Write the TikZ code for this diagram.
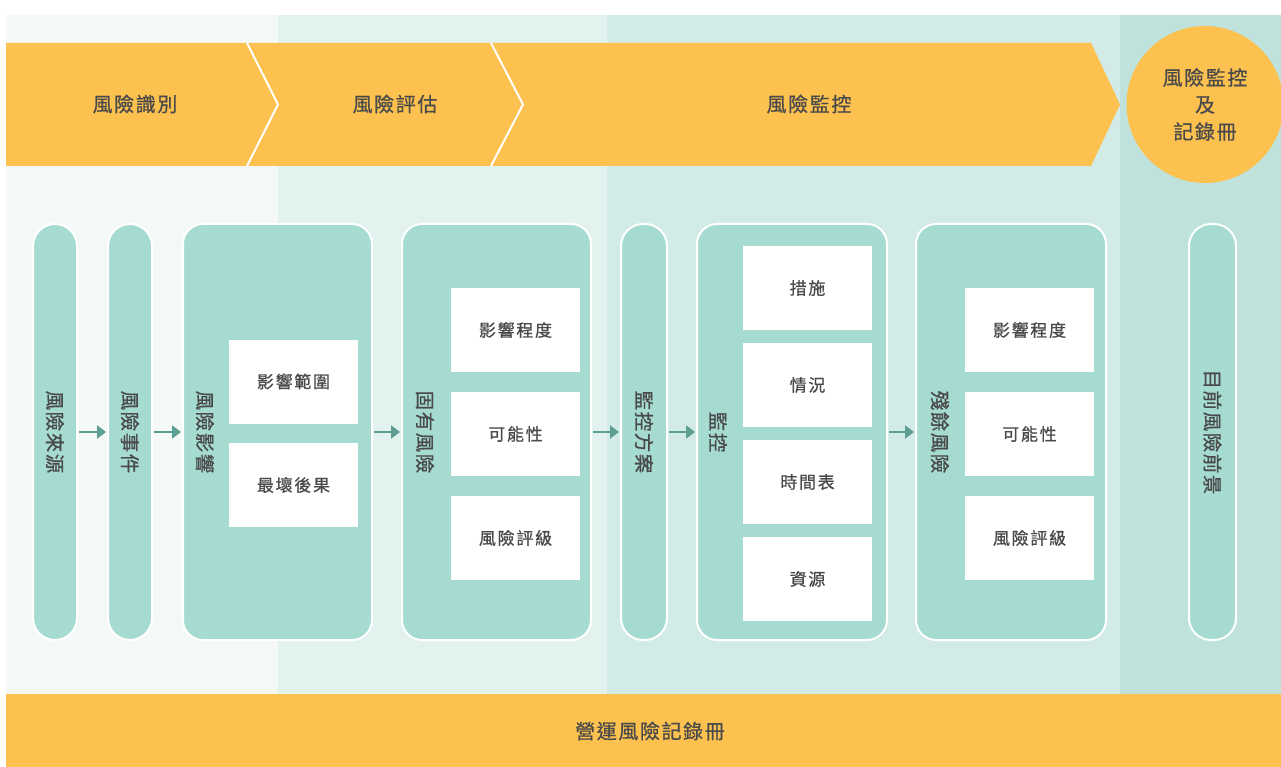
\documentclass[tikz,border=0pt]{standalone}
\usepackage{fontspec}
\usetikzlibrary{arrows.meta}
\newfontfamily\cjk[LetterSpace=8,FakeBold=0.8]{Noto Sans CJK TC}
\newfontfamily\cjkb[LetterSpace=10,FakeBold=0.8]{Noto Sans CJK TC}
\definecolor{bgA}{HTML}{F4F9F8}
\definecolor{bgB}{HTML}{E2F2EF}
\definecolor{bgC}{HTML}{D2EBE6}
\definecolor{bgD}{HTML}{BFE3DC}
\definecolor{orng}{HTML}{FDC14F}
\definecolor{teal}{HTML}{A5DBD1}
\definecolor{arrc}{HTML}{5C9E91}
\definecolor{txt}{HTML}{4A4A4A}
\tikzset{
  lab/.style={font=\cjk\fontsize{20}{27}\selectfont, text=txt, align=center},
  vlab/.style={font=\cjk\fontsize{19.5}{22}\selectfont, text=txt, rotate=-90, inner sep=0pt},
  pill/.style={fill=teal, draw=white, line width=2pt, rounded corners=22pt, minimum height=416pt, inner sep=0pt},
  bigbox/.style={fill=teal, draw=white, line width=2pt, rounded corners=20pt, minimum width=189pt, minimum height=416pt, inner sep=0pt},
  wbox/.style={fill=white, minimum width=129pt, minimum height=84pt, inner sep=0pt, font=\cjkb\fontsize{17}{20}\selectfont, text=txt},
  arr/.style={arrc, line width=2.5pt, -{Triangle[length=9pt,width=13pt]}, shorten <=1pt, shorten >=1pt}
}
\begin{document}
\begin{tikzpicture}[x=1pt,y=-1pt]
\useasboundingbox (0,0) rectangle (1281,767);
\fill[white] (0,0) rectangle (1281,767);
\fill[bgA] (6,15) rectangle (278,694);
\fill[bgB] (278,15) rectangle (607,694);
\fill[bgC] (607,15) rectangle (1120,694);
\fill[bgD] (1120,15) rectangle (1281,694);
% chevron band
\fill[orng] (6,43) -- (1091,43) -- (1120,104.5) -- (1091,166) -- (6,166) -- cycle;
\draw[white, line width=2pt] (247,43) -- (278,104.5) -- (247,166);
\draw[white, line width=2pt] (491,43) -- (523,104.5) -- (491,166);
\node[lab] (h1) at (135,104) {風險識別};
\node[lab] (h2) at (395,104) {風險評估};
\node[lab] (h3) at (809,104) {風險監控};
\node[circle, fill=orng, minimum size=157pt, inner sep=0pt, lab] (h4) at (1205,104.5) {風險監控\\及\\記錄冊};
% bottom band
\fill[orng] (6,694) rectangle (1281,767);
\node[lab] (bot) at (650,731) {營運風險記錄冊};
% columns
\node[pill, minimum width=44pt] (p1) at (55,432) {};
\node[pill, minimum width=44pt] (p2) at (130,432) {};
\node[bigbox] (b3) at (277.5,432) {};
\node[bigbox] (b4) at (496.5,432) {};
\node[pill, minimum width=46pt] (p5) at (644,432) {};
\node[bigbox, minimum width=190pt] (b6) at (792,432) {};
\node[bigbox, minimum width=190pt] (b7) at (1011,432) {};
\node[pill, minimum width=47pt] (p8) at (1212.5,432) {};
% vertical labels
\node[vlab] (v1) at (p1) {風險來源};
\node[vlab] (v2) at (p2) {風險事件};
\node[vlab] (v3) at (205,432) {風險影響};
\node[vlab] (v4) at (425,432) {固有風險};
\node[vlab] (v5) at (p5) {監控方案};
\node[vlab] (v6) at (718,432) {監控};
\node[vlab] (v7) at (940,432) {殘餘風險};
\node[vlab] (v8) at (p8) {目前風險前景};
% inner boxes
\node[wbox] (w31) at (293.5,381.5) {影響範圍};
\node[wbox] (w32) at (293.5,485) {最壞後果};
\node[wbox] (w41) at (515.5,330) {影響程度};
\node[wbox] (w42) at (515.5,434) {可能性};
\node[wbox] (w43) at (515.5,538) {風險評級};
\node[wbox] (w61) at (807.5,288) {措施};
\node[wbox] (w62) at (807.5,385) {情況};
\node[wbox] (w63) at (807.5,482) {時間表};
\node[wbox] (w64) at (807.5,579) {資源};
\node[wbox] (w71) at (1029.5,330) {影響程度};
\node[wbox] (w72) at (1029.5,434) {可能性};
\node[wbox] (w73) at (1029.5,538) {風險評級};
% arrows
\draw[arr] (p1) -- (p2);
\draw[arr] (p2) -- (b3);
\draw[arr] (b3) -- (b4);
\draw[arr] (b4) -- (p5);
\draw[arr] (p5) -- (b6);
\draw[arr] (b6) -- (b7);
\end{tikzpicture}
\end{document}
